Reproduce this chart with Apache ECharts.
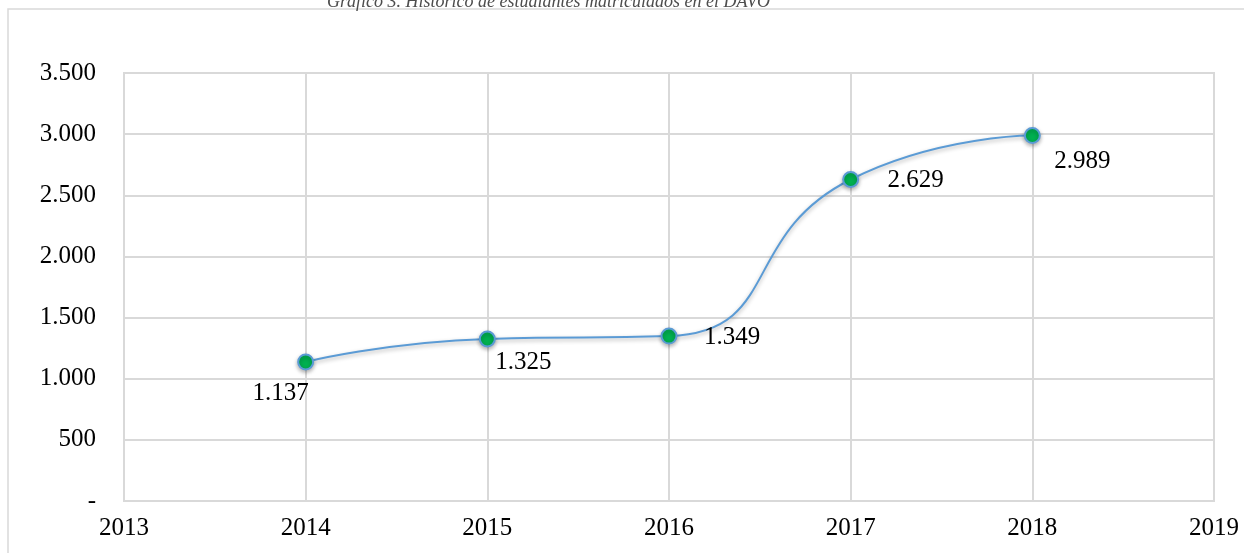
<!DOCTYPE html>
<html>
<head>
<meta charset="utf-8">
<script src="https://cdn.jsdelivr.net/npm/echarts@6/dist/echarts.min.js"></script>
<style>
  html, body { margin: 0; padding: 0; background: #fff; }
  #chart { width: 1244px; height: 553px; }
</style>
</head>
<body>
<div id="chart"></div>
<script>
// datos
const years = [2014, 2015, 2016, 2017, 2018];
const students = [1137, 1325, 1349, 2629, 2989];
const xTicks = [2013, 2014, 2015, 2016, 2017, 2018, 2019];
const yTicks = [0, 500, 1000, 1500, 2000, 2500, 3000, 3500];
const titleText = 'Gráfico 3. Histórico de estudiantes matriculados en el DAVO';

// desplazamiento de cada etiqueta respecto al punto
const labelOffsets = [[-25, 31], [36, 23], [63, 1], [65, 1], [50, 26]];

const serif = 'Liberation Serif';

function fmt(v) {
  if (v === 0) return '-';
  return String(v).replace(/\B(?=(\d{3})+(?!\d))/g, '.');
}

const chart = echarts.init(document.getElementById('chart'));
chart.setOption({
  animation: false,
  title: {
    text: titleText,
    left: 322,
    top: -12,
    textStyle: {
      fontFamily: serif,
      fontStyle: 'italic',
      fontWeight: 'normal',
      fontSize: 18,
      color: '#4d4d4d'
    }
  },
  graphic: [{
    type: 'polyline',
    shape: { points: [[8, 600], [8, 9], [1300, 9]] },
    style: { fill: 'none', stroke: '#d9d9d9', lineWidth: 1.5 },
    silent: true
  }],
  grid: {
    left: 124,
    right: 30,
    top: 73,
    bottom: 52,
    show: true,
    borderColor: '#d9d9d9',
    borderWidth: 2
  },
  xAxis: {
    type: 'value',
    min: xTicks[0],
    max: xTicks[xTicks.length - 1],
    interval: 1,
    axisLine: { show: false },
    axisTick: { show: false },
    splitLine: { show: true, lineStyle: { color: '#d9d9d9', width: 2 } },
    axisLabel: {
      margin: 15,
      fontFamily: serif,
      fontSize: 25,
      color: '#000',
      formatter: v => String(v)
    }
  },
  yAxis: {
    type: 'value',
    min: yTicks[0],
    max: yTicks[yTicks.length - 1],
    interval: 500,
    axisLine: { show: false },
    axisTick: { show: false },
    splitLine: { show: true, lineStyle: { color: '#d9d9d9', width: 2 } },
    axisLabel: {
      margin: 28,
      fontFamily: serif,
      fontSize: 25,
      color: '#000',
      formatter: fmt
    }
  },
  series: [{
    type: 'line',
    smooth: 0.55,
    symbol: 'circle',
    symbolSize: 15,
    lineStyle: {
      color: '#5b9bd5',
      width: 2,
      shadowColor: 'rgba(0,0,0,0.3)',
      shadowBlur: 4,
      shadowOffsetY: 2
    },
    itemStyle: {
      color: '#00b050',
      borderColor: '#5b9bd5',
      borderWidth: 2,
      shadowColor: 'rgba(0,0,0,0.3)',
      shadowBlur: 4,
      shadowOffsetY: 2
    },
    data: years.map((y, i) => ({
      value: [y, students[i]],
      label: {
        show: true,
        position: 'inside',
        offset: labelOffsets[i],
        fontFamily: serif,
        fontSize: 25,
        color: '#000',
        formatter: p => fmt(p.value[1])
      }
    }))
  }]
});
</script>
</body>
</html>
